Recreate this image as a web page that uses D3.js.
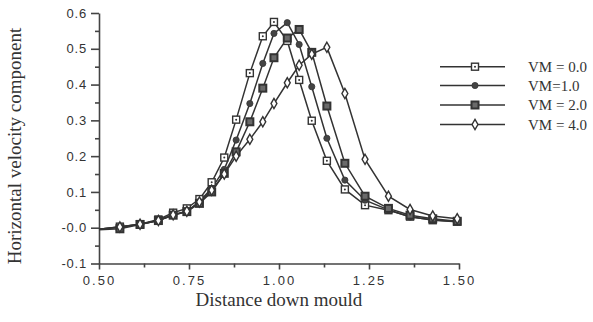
<!DOCTYPE html>
<html>
<head>
<meta charset="utf-8">
<script src="https://cdn.jsdelivr.net/npm/d3@7"></script>
<style>
  body { margin: 0; background: #fff; }
  svg { display: block; }
  .tick text { font-family: "Liberation Sans", Arial, sans-serif; fill: #333; }
</style>
</head>
<body>
<div id="chart"></div>
<script>
// distance grid shared by all runs
var xGrid = [0.5, 0.558, 0.614, 0.665, 0.706, 0.744, 0.779, 0.813, 0.848, 0.881, 0.919, 0.955,
             0.986, 1.023, 1.056, 1.091, 1.133, 1.183, 1.239, 1.304, 1.364, 1.427, 1.495];

var vm00 = [-0.004, 0.003, 0.010, 0.023, 0.042, 0.054, 0.080, 0.127, 0.196, 0.302, 0.432, 0.535,
            0.575, 0.522, 0.413, 0.299, 0.187, 0.107, 0.063, 0.049, 0.031, 0.021, 0.017];
var vm10 = [-0.004, 0.002, 0.010, 0.020, 0.036, 0.045, 0.073, 0.110, 0.163, 0.245, 0.347, 0.459,
            0.543, 0.573, 0.512, 0.394, 0.250, 0.133, 0.077, 0.050, 0.030, 0.022, 0.017];
var vm20 = [-0.006, -0.003, 0.009, 0.020, 0.035, 0.045, 0.068, 0.100, 0.152, 0.212, 0.296, 0.390,
            0.475, 0.530, 0.554, 0.490, 0.340, 0.180, 0.088, 0.054, 0.035, 0.025, 0.018];
var vm40 = [-0.004, 0.002, 0.010, 0.020, 0.036, 0.046, 0.072, 0.105, 0.150, 0.200, 0.247, 0.296,
            0.347, 0.405, 0.454, 0.485, 0.504, 0.375, 0.191, 0.088, 0.051, 0.033, 0.025];

var seriesNames = ["VM = 0.0", "VM=1.0", "VM = 2.0", "VM = 4.0"];
var markerKinds = ["dotSquare", "dot", "darkSquare", "diamond"];

var xTickValues = [0.5, 0.75, 1.0, 1.25, 1.5];
var xTickLabels = ["0.50", "0.75", "1.00", "1.25", "1.50"];
var yTickValues = [-0.1, 0, 0.1, 0.2, 0.3, 0.4, 0.5, 0.6];
var yTickLabels = ["-0.1", "-0.0", "0.1", "0.2", "0.3", "0.4", "0.5", "0.6"];

var width = 593, height = 322;
var ink = "#333";

var svg = d3.select("#chart").append("svg")
    .attr("width", width)
    .attr("height", height);

var x = d3.scaleLinear().domain([0.5, 1.5]).range([99, 459]);
var y = d3.scaleLinear().domain([-0.1, 0.6]).range([263.5, 13]);

// minor ticks first, then the labelled ones
svg.append("g")
    .attr("transform", "translate(99,0)")
    .call(d3.axisLeft(y).tickValues(d3.range(-0.05, 0.6, 0.1)).tickSize(4).tickFormat(""))
    .call(function(g) { g.select(".domain").remove(); });
svg.append("g")
    .attr("transform", "translate(0,263.5)")
    .call(d3.axisBottom(x).tickValues(d3.range(0.625, 1.5, 0.25)).tickSize(4).tickFormat(""))
    .call(function(g) { g.select(".domain").remove(); });

var yAxis = svg.append("g")
    .attr("transform", "translate(99,0)")
    .call(d3.axisLeft(y).tickValues(yTickValues).tickSize(8).tickSizeOuter(0).tickPadding(4)
      .tickFormat(function(d, i) { return yTickLabels[i]; }));
yAxis.selectAll("text").style("font-size", "13px").style("letter-spacing", "0.8px");

var xAxis = svg.append("g")
    .attr("transform", "translate(0,263.5)")
    .call(d3.axisBottom(x).tickValues(xTickValues).tickSize(6).tickSizeOuter(0).tickPadding(6)
      .tickFormat(function(d, i) { return xTickLabels[i]; }));
xAxis.selectAll("text").style("font-size", "13px").style("letter-spacing", "2px");

svg.selectAll(".domain, .tick line").attr("stroke", "#444").attr("stroke-width", 1.6);

svg.append("text")
    .attr("x", 279).attr("y", 306)
    .attr("text-anchor", "middle")
    .style("font-family", "'Liberation Serif', 'Times New Roman', serif")
    .style("font-size", "19px").style("fill", ink)
    .text("Distance down mould");

svg.append("text")
    .attr("transform", "translate(21,146) rotate(-90)")
    .attr("text-anchor", "middle")
    .style("font-family", "'Liberation Serif', 'Times New Roman', serif")
    .style("font-size", "19px").style("fill", ink)
    .text("Horizontal velocity component");

function drawMarker(g, kind, px, py) {
  if (kind === "dotSquare") {
    g.append("rect").attr("x", px - 3.5).attr("y", py - 3.5).attr("width", 7).attr("height", 7)
      .attr("fill", "#fff").attr("stroke", ink).attr("stroke-width", 1.4);
    g.append("circle").attr("cx", px).attr("cy", py).attr("r", 1).attr("fill", ink);
  } else if (kind === "dot") {
    g.append("circle").attr("cx", px).attr("cy", py).attr("r", 3.1)
      .attr("fill", "#444").attr("stroke", ink).attr("stroke-width", 0.8);
  } else if (kind === "darkSquare") {
    g.append("rect").attr("x", px - 3.5).attr("y", py - 3.5).attr("width", 7).attr("height", 7)
      .attr("fill", "#6a6a6a").attr("stroke", ink).attr("stroke-width", 2);
  } else {
    g.append("path").attr("transform", "translate(" + px + "," + py + ")")
      .attr("d", d3.symbol().type(d3.symbolDiamond).size(30)())
      .attr("fill", "#fff").attr("stroke", ink).attr("stroke-width", 1.4);
  }
}

var allSeries = [vm00, vm10, vm20, vm40];
var line = d3.line()
    .x(function(d) { return x(d[0]); })
    .y(function(d) { return y(d[1]); });

allSeries.forEach(function(vals, k) {
  var pts = xGrid.map(function(xv, i) { return [xv, vals[i]]; });
  svg.append("path").datum(pts)
    .attr("d", line)
    .attr("fill", "none")
    .attr("stroke", ink)
    .attr("stroke-width", 1.5);
});

// markers on top; the first grid point sits on the axis with no marker
allSeries.forEach(function(vals, k) {
  var g = svg.append("g");
  xGrid.forEach(function(xv, i) {
    if (i === 0) return;
    drawMarker(g, markerKinds[k], x(xv), y(vals[i]));
  });
});

// legend
var legendY = [66.7, 85.5, 105, 124.5];
seriesNames.forEach(function(name, k) {
  var g = svg.append("g");
  g.append("line").attr("x1", 440).attr("x2", 505)
    .attr("y1", legendY[k]).attr("y2", legendY[k])
    .attr("stroke", ink).attr("stroke-width", 1.5);
  drawMarker(g, markerKinds[k], 475, legendY[k]);
  g.append("text").attr("x", 528).attr("y", legendY[k] + 5)
    .style("font-family", "'Liberation Serif', 'Times New Roman', serif")
    .style("font-size", "15px").style("fill", ink)
    .text(name);
});
</script>
</body>
</html>
